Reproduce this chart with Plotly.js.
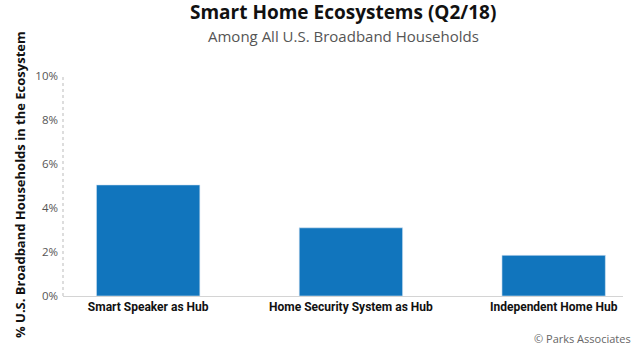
<!DOCTYPE html>
<html>
<head>
<meta charset="utf-8">
<script src="https://cdn.plot.ly/plotly-3.0.1.min.js"></script>
<style>html,body{margin:0;padding:0;background:#fff;}#chart{width:640px;height:350px;}</style>
</head>
<body>
<div id="chart"></div>
<script>
const categories = ["Smart Speaker as Hub", "Home Security System as Hub", "Independent Home Hub"];
const values = [5.05, 3.1, 1.85];
const tickVals = [0, 2, 4, 6, 8, 10];
const tickText = ["0%", "2%", "4%", "6%", "8%", "10%"];
const yTitle = "% U.S. Broadband Households in the Ecosystem";

const trace = {
  type: "bar",
  x: [0, 1, 2],
  y: values,
  marker: {color: "#1175BD", line: {color: "#d6e6f3", width: 0.6}},
  width: 0.51,
  hoverinfo: "none"
};

const layout = {
  width: 640, height: 350,
  margin: {l: 63, r: 17, t: 76, b: 54},
  paper_bgcolor: "#fff", plot_bgcolor: "#fff",
  showlegend: false,
  xaxis: {
    range: [-0.42, 2.342],
    tickvals: [0, 1, 2],
    ticktext: categories.map(c => "<b>" + c + "</b>"),
    tickfont: {family: "Roboto, sans-serif", size: 12, color: "#111"},
    showgrid: false, zeroline: false,
    showline: true, linecolor: "#d4d4d4", linewidth: 1,
    ticks: "", ticklen: 0, fixedrange: true
  },
  yaxis: {
    range: [0, 10],
    tickvals: tickVals,
    ticktext: tickText,
    tickfont: {family: "Open Sans, sans-serif", size: 11.5, color: "#555"},
    showgrid: false, zeroline: false, showline: false,
    ticks: "", ticklabelstandoff: 4
  },
  shapes: [{
    type: "line", xref: "paper", yref: "paper", x0: 0, x1: 0, y0: 0, y1: 1,
    line: {color: "#bbbbbb", width: 1, dash: "dot"}
  }],
  annotations: [
    {text: "<b>Smart Home Ecosystems (Q2/18)</b>", xref: "paper", yref: "paper", x: 0.5, xanchor: "center",
     y: 1.0, yshift: 64, yanchor: "middle", showarrow: false, font: {family: "Open Sans, sans-serif", size: 19, color: "#111"}},
    {text: "Among All U.S. Broadband Households", xref: "paper", yref: "paper", x: 0.5, xanchor: "center",
     y: 1.0, yshift: 40, yanchor: "middle", showarrow: false, font: {family: "Open Sans, sans-serif", size: 15, color: "#555"}},
    {text: "<b>" + yTitle + "</b>", xref: "paper", yref: "paper", x: 0, xshift: -43, xanchor: "center",
     y: 0.5, yshift: 1, yanchor: "middle", textangle: -90, showarrow: false, font: {family: "Open Sans, sans-serif", size: 13, color: "#111"}},
    {text: "© Parks Associates", xref: "paper", yref: "paper", x: 1.0, xshift: 10, xanchor: "right",
     y: 0, yshift: -42, yanchor: "middle", showarrow: false, font: {family: "Open Sans, sans-serif", size: 11, color: "#666"}}
  ]
};

Plotly.newPlot("chart", [trace], layout, {staticPlot: true, displayModeBar: false});
</script>
</body>
</html>
